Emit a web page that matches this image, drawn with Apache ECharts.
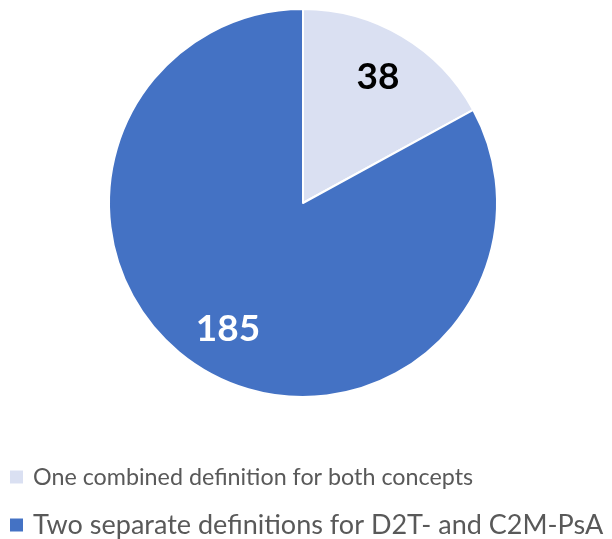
<!DOCTYPE html>
<html><head><meta charset="utf-8">
<script src="https://cdn.jsdelivr.net/npm/echarts@6/dist/echarts.min.js"></script>
<style>html,body{margin:0;padding:0;background:#fff}#c{width:612px;height:539px}</style>
</head><body><div id="c"></div>
<script>
const categories = ["One combined definition for both concepts", "Two separate definitions for D2T- and C2M-PsA"];
const values = [38, 185];
const colors = ["#DAE0F2", "#4472C4"];
const labelColors = ["#000000", "#FFFFFF"];
const legendFontSizes = [23.3, 27];

const chart = echarts.init(document.getElementById('c'));
const mainData = categories.map((n, i) => ({name: n, value: values[i], itemStyle: {color: colors[i]}}));
const labelData = categories.map((n, i) => ({name: n, value: values[i], itemStyle: {color: 'rgba(0,0,0,0)'},
  label: {color: labelColors[i]}}));
chart.setOption({
  animation: false,
  legend: {
    orient: 'vertical', left: 10, top: 463, height: 90,
    icon: 'rect', itemWidth: 13, itemHeight: 13, itemGap: 20, padding: 0,
    itemStyle: {borderWidth: 0},
    data: categories.map((n, i) => ({name: n, textStyle: {fontSize: legendFontSizes[i]}})),
    textStyle: {fontFamily: 'Lato', lineHeight: 28, color: '#595959', padding: [0, 0, 0, 5]}
  },
  series: [{
    type: 'pie', center: [303, 203], radius: [0, 194],
    startAngle: 90, clockwise: true,
    data: mainData,
    itemStyle: {borderColor: '#fff', borderWidth: 2},
    label: {show: false}, labelLine: {show: false},
    emphasis: {disabled: true}
  }, {
    type: 'pie', center: [303, 203], radius: [94, 194],
    startAngle: 90, clockwise: true, silent: true,
    data: labelData,
    legendHoverLink: false,
    label: {show: true, position: 'inside', formatter: '{c}', fontFamily: 'Lato', fontWeight: 'bold', fontSize: 37},
    labelLine: {show: false},
    emphasis: {disabled: true}
  }]
});
</script></body></html>
